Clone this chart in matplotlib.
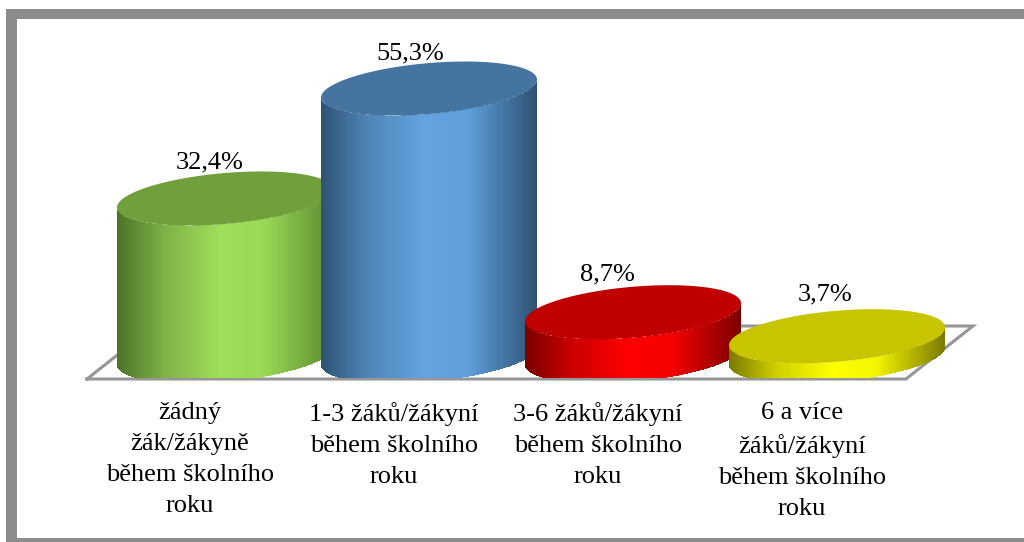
import numpy as np
import matplotlib
matplotlib.use("Agg")
import matplotlib.pyplot as plt
from matplotlib.colors import LinearSegmentedColormap
from matplotlib.patches import Rectangle

categories = ["žádný\nžák/žákyně\nběhem školního\nroku",
              "1-3 žáků/žákyní\nběhem školního\nroku",
              "3-6 žáků/žákyní\nběhem školního\nroku",
              "6 a více\nžáků/žákyní\nběhem školního\nroku"]
values = [32.4, 55.3, 8.7, 3.7]

top_colors = ["#709f3c", "#44749f", "#c00000", "#c8c400"]
body_stops = [
    ["#4c7428", "#7fb148", "#9fe05a", "#98d955", "#5f8a32"],
    ["#2e5273", "#4f86b8", "#62a3e1", "#5f9fda", "#2e5273"],
    ["#7a0000", "#cc0000", "#ff0000", "#f50000", "#7a0000"],
    ["#7a7a00", "#d0d000", "#ffff00", "#f5f500", "#7a7a00"],
]
label_offsets = [(-15, 36.5), (-19, 35.5), (-26, 38), (-12, 42)]

W, H = 1024, 542
K = 4.8           # pixels per percentage point
BASE = 354        # pixel row of the value axis zero
X0, STEP = 225, 204
A_X = 108 / STEP  # cylinder half width in category units
RY, SKEW, FLOOR_Y = 25.5, 9, 378
RIM_DROP = 2      # base rim sits slightly below the axis zero

plt.rcParams["font.family"] = ["Liberation Serif", "DejaVu Serif"]
fig = plt.figure(figsize=(W / 100, H / 100), dpi=100, facecolor="white")

# page-level decoration in pixel coordinates
deco = fig.add_axes([0, 0, 1, 1])
deco.set_xlim(0, W)
deco.set_ylim(H, 0)
deco.axis("off")
frame = "#8c8c8c"
deco.add_patch(Rectangle((6, 9), W - 6, 9.5, fc=frame, ec="none"))
deco.add_patch(Rectangle((6, 9), 11, H - 9, fc=frame, ec="none"))
deco.add_patch(Rectangle((6, 538), W - 6, 4, fc=frame, ec="none"))
deco.plot([87, 906, 973, 154, 87], [379, 379, 326, 326, 379], color="#969696", lw=2.2,
          solid_joinstyle="miter")

# value axes, same area as the page
ax = fig.add_axes([0, 0, 1, 1])
ax.patch.set_alpha(0)
ax.axis("off")

grad_pos = [0, 0.22, 0.48, 0.68, 1]
floor_val = -(FLOOR_Y - BASE) / K


def rim(i, v, t):
    x = i + A_X * np.cos(t)
    y = v + (RY * np.sin(t) + SKEW * np.cos(t)) / K
    return x, y


for i, v in enumerate(values):
    t = np.linspace(np.pi, 2 * np.pi, 217)
    xt, yt = rim(i, v, t)
    _, yb = rim(i, -RIM_DROP / K, t)
    yb = np.maximum(yb, floor_val)
    X = np.vstack([xt, xt])
    Y = np.vstack([yb, yt])
    cmap = LinearSegmentedColormap.from_list("b", list(zip(grad_pos, body_stops[i])))
    C = ((xt[:-1] + xt[1:]) / 2 - (i - A_X)) / (2 * A_X)
    ax.pcolormesh(X, Y, C[None, :], cmap=cmap, vmin=0, vmax=1, shading="flat", zorder=2 + i)
    xc, yc = rim(i, v, np.linspace(0, 2 * np.pi, 240))
    ax.fill(xc, yc, color=top_colors[i], lw=0, zorder=2 + i)
    ax.annotate(f"{v:.1f}%".replace(".", ","), (i, v),
                xytext=(label_offsets[i][0] * 0.72, label_offsets[i][1] * 0.72),
                textcoords="offset points", ha="center", va="center",
                fontsize=19, color="black", zorder=10)
    ax.annotate(categories[i], (i, 0), xytext=(-35 * 0.72, -(402 - BASE) * 0.72),
                textcoords="offset points", ha="center", va="top",
                fontsize=19, linespacing=1.53, color="black", zorder=10)

ax.set_xlim(-X0 / STEP, (W - X0) / STEP)
ax.set_ylim(-(H - BASE) / K, BASE / K)
fig.savefig("out.png", dpi=100, facecolor="white")
